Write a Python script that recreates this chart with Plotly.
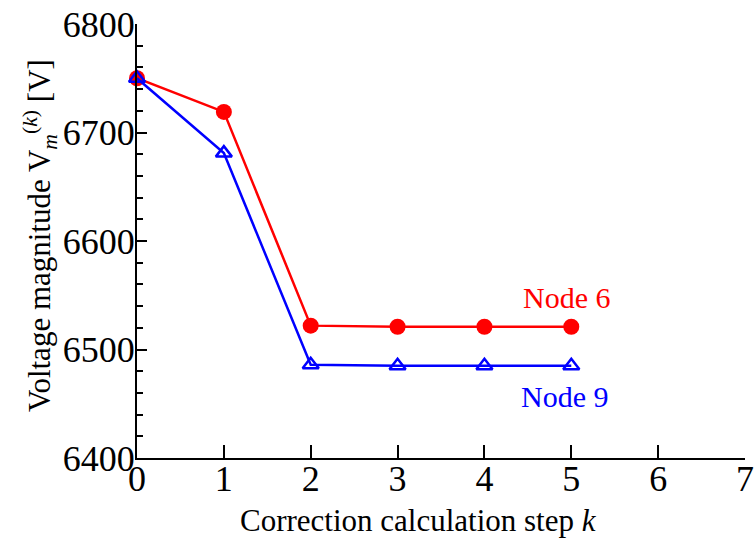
import plotly.graph_objects as go

steps = [0, 1, 2, 3, 4, 5]
node6 = [6750, 6719, 6522, 6521, 6521, 6521]
node9 = [6750, 6681, 6486, 6485, 6485, 6485]
labels = ["Node 6", "Node 9"]
label_pos = [(4.95, 6548), (4.92, 6457)]
colors = ["#ff0000", "#0000ff"]
x_title = "Correction calculation step <i>k</i>"
y_title = "Voltage magnitude V<sub><i>m</i></sub><sup>(<i>k</i>)</sup> [V]"

FONT = "Liberation Serif, Times New Roman, serif"

L, R, T, B = 137, 745, 24, 458

fig = go.Figure()
fig.add_trace(go.Scatter(
    x=steps, y=node6, mode="lines+markers", name=labels[0],
    line=dict(color=colors[0], width=2.5),
    marker=dict(symbol="circle", size=16, color=colors[0]),
    cliponaxis=False))
fig.add_trace(go.Scatter(
    x=steps, y=node9, mode="lines+markers", name=labels[1],
    line=dict(color=colors[1], width=2.5),
    marker=dict(symbol="triangle-up-open", size=14, color=colors[1],
                line=dict(width=2.5, color=colors[1])),
    cliponaxis=False))

for txt, (xx, yy), c in zip(labels, label_pos, colors):
    fig.add_annotation(x=xx, y=yy, text=txt, showarrow=False,
                       font=dict(family=FONT, size=30, color=c))

# axis titles as paper annotations for precise placement
fig.add_annotation(xref="paper", yref="paper",
                   x=(418 - L) / (R - L), y=(B - 520) / (B - T),
                   xanchor="center", yanchor="middle",
                   text=x_title, showarrow=False,
                   font=dict(family=FONT, size=31, color="black"))
fig.add_annotation(xref="paper", yref="paper",
                   x=(40 - L) / (R - L), y=(B - 236) / (B - T),
                   xanchor="center", yanchor="middle",
                   text=y_title, textangle=-90, showarrow=False,
                   font=dict(family=FONT, size=31, color="black"))

fig.update_layout(
    width=754, height=542,
    margin=dict(l=L, r=754 - R, t=T, b=542 - B),
    paper_bgcolor="white", plot_bgcolor="white",
    showlegend=False,
    font=dict(family=FONT, color="black"),
)
fig.update_xaxes(
    range=[0, 7], dtick=1, tick0=0, automargin=False,
    showline=True, linecolor="black", linewidth=2,
    ticks="inside", ticklen=13, tickwidth=2, tickcolor="black",
    showgrid=False, zeroline=False,
    tickfont=dict(family=FONT, size=36),
    ticklabelstandoff=-12,
)
fig.update_yaxes(
    range=[6400, 6800], dtick=100, tick0=6400, automargin=False,
    showline=True, linecolor="black", linewidth=2,
    ticks="inside", ticklen=10, tickwidth=2, tickcolor="black",
    minor=dict(dtick=20, ticks="inside", ticklen=6, tickwidth=2, tickcolor="black", showgrid=False),
    showgrid=False, zeroline=False,
    tickfont=dict(family=FONT, size=36),
    ticklabelstandoff=-7,
)

fig.write_html("out.html")
